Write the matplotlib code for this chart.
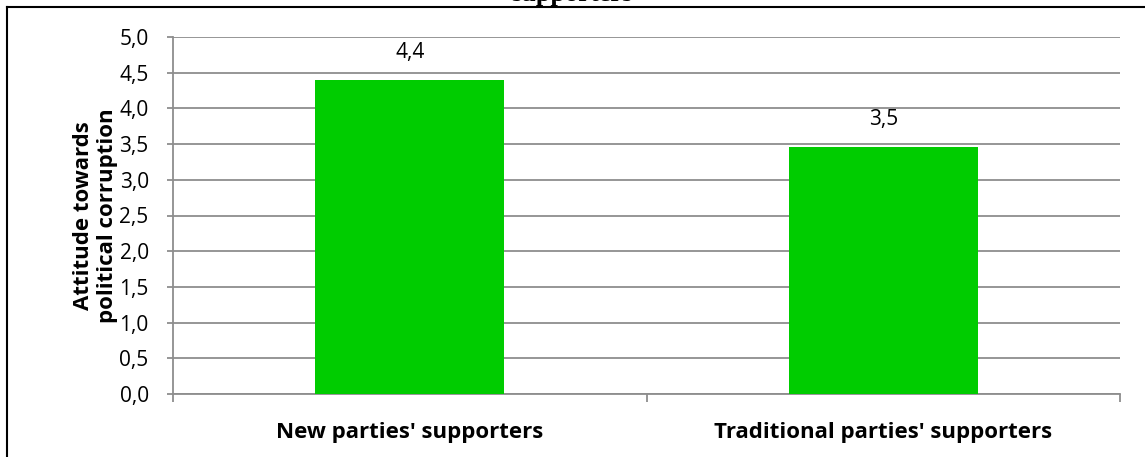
import matplotlib.pyplot as plt
from matplotlib.lines import Line2D

groups = ["New parties' supporters", "Traditional parties' supporters"]
scores = [4.40, 3.46]
yticks = [0.0, 0.5, 1.0, 1.5, 2.0, 2.5, 3.0, 3.5, 4.0, 4.5, 5.0]

W, H = 1145, 457
fig = plt.figure(figsize=(W / 100, H / 100), dpi=100)
ax = fig.add_axes([173 / W, 1 - 394 / H, (1120 - 173) / W, (394 - 37) / H])

grid_c = '#8e8e8e'
font = ['Open Sans', 'DejaVu Sans']


def comma(v):
    return '{:.1f}'.format(v).replace('.', ',')


x = list(range(len(groups)))
bars = ax.bar(x, scores, width=0.40, color='#00cc00', zorder=3)
for b, v in zip(bars, scores):
    ax.annotate(comma(v), (b.get_x() + b.get_width() / 2, v), xytext=(0, 20),
                textcoords='offset points', ha='center', va='center',
                fontsize=15, family=font)

ax.set_xlim(-0.5, len(groups) - 0.5)
ax.set_ylim(0, 5)
ax.set_yticks(yticks)
ax.set_yticklabels([comma(t) for t in yticks], fontsize=15, family=font)
ax.yaxis.grid(True, color=grid_c, linewidth=1.3, zorder=0)

# category boundaries carry the x tick marks
ax.set_xticks([-0.5, 0.5, 1.5])
ax.set_xticklabels([])
ax.set_xticks(x, minor=True)
ax.set_xticklabels(groups, minor=True, fontsize=16, fontweight='bold', family=font)
ax.tick_params(axis='x', which='minor', length=0, pad=20)
ax.tick_params(axis='x', which='major', length=6, width=1.3, color=grid_c)
ax.tick_params(axis='y', length=4.5, width=1.3, color=grid_c, pad=13)

for s in ['top', 'right']:
    ax.spines[s].set_visible(False)
for s in ['left', 'bottom']:
    ax.spines[s].set_color(grid_c)
    ax.spines[s].set_linewidth(1.3)

ax.set_ylabel('Attitude towards\npolitical corruption', fontsize=16,
              fontweight='bold', family=font, labelpad=1, linespacing=1.2)

# frame around the whole chart
fig.add_artist(Line2D([7 / W, 1], [1 - 7 / H, 1 - 7 / H], color='black', lw=1.5))
fig.add_artist(Line2D([7 / W, 7 / W], [0, 1 - 7 / H], color='black', lw=1.5))

fig.text(572 / W, 1 - 1.5 / H, 'supporters', ha='center', va='baseline',
         fontsize=19, fontweight='bold', family='Liberation Serif')

fig.savefig('out.png', dpi=100)
